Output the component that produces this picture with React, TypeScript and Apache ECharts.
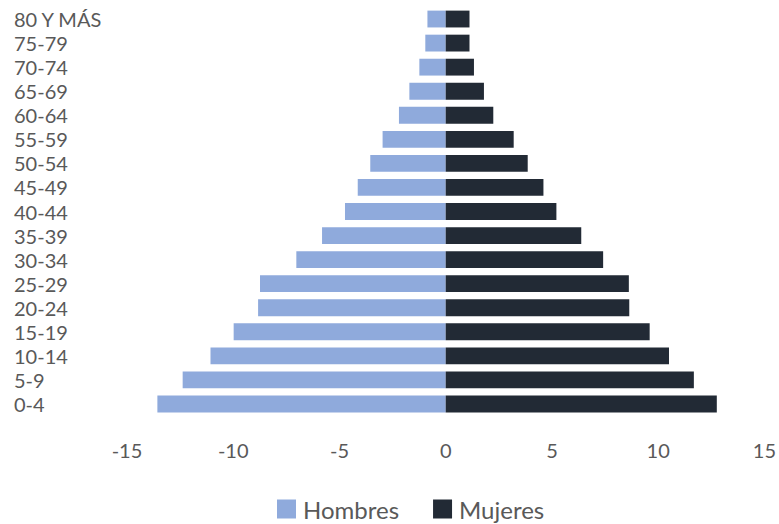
import React, { useEffect, useRef } from "react";
import * as echarts from "echarts";

const categories = ["0-4", "5-9", "10-14", "15-19", "20-24", "25-29", "30-34", "35-39", "40-44", "45-49", "50-54", "55-59", "60-64", "65-69", "70-74", "75-79", "80 Y MÁS"];
const hombres = [13.57, 12.38, 11.07, 9.98, 8.83, 8.74, 7.03, 5.82, 4.74, 4.14, 3.55, 2.97, 2.2, 1.71, 1.24, 0.96, 0.86];
const mujeres = [12.76, 11.68, 10.51, 9.6, 8.64, 8.62, 7.41, 6.38, 5.21, 4.6, 3.86, 3.2, 2.24, 1.8, 1.33, 1.12, 1.12];
const xMin = -15;
const xMax = 15;
const xStep = 5;

const FONT = "Lato, 'Open Sans', sans-serif";
const TEXT = "#595959";

export default function App() {
  const ref = useRef<HTMLDivElement>(null);
  useEffect(() => {
    if (!ref.current) return;
    const chart = echarts.init(ref.current, undefined, { renderer: "svg" });
    chart.setOption({
      animation: false,
      backgroundColor: "#ffffff",
      textStyle: { fontFamily: FONT },
      grid: { left: 127, right: 13, top: 7, bottom: 108, containLabel: false },
      legend: {
        top: 497,
        left: 277,
        padding: 0,
        itemWidth: 19,
        itemHeight: 19,
        itemGap: 34,
        icon: "rect",
        textStyle: { color: TEXT, fontSize: 24, lineHeight: 24, fontFamily: FONT, padding: [0, 0, 0, 2] },
        data: ["Hombres", "Mujeres"],
      },
      xAxis: {
        type: "value",
        min: xMin,
        max: xMax,
        interval: xStep,
        axisLine: { show: false },
        axisTick: { show: false },
        splitLine: { show: false },
        axisLabel: { color: TEXT, fontSize: 20, margin: 24, fontFamily: FONT },
      },
      yAxis: {
        type: "category",
        data: categories,
        axisLine: { show: false },
        axisTick: { show: false },
        splitLine: { show: false },
        axisLabel: { color: TEXT, fontSize: 20, lineHeight: 20, align: "left", margin: 113, interval: 0, fontFamily: FONT },
      },
      series: [
        {
          name: "Hombres",
          type: "bar",
          stack: "total",
          barWidth: "70%",
          itemStyle: { color: "#8faadc" },
          data: hombres.map((v) => -v),
        },
        {
          name: "Mujeres",
          type: "bar",
          stack: "total",
          barWidth: "70%",
          itemStyle: { color: "#222a35" },
          data: mujeres,
        },
      ],
    });
    return () => chart.dispose();
  }, []);
  return (
    <div
      ref={ref}
      style={{ position: "fixed", left: 0, top: 0, width: 779, height: 524, background: "#fff" }}
    />
  );
}
